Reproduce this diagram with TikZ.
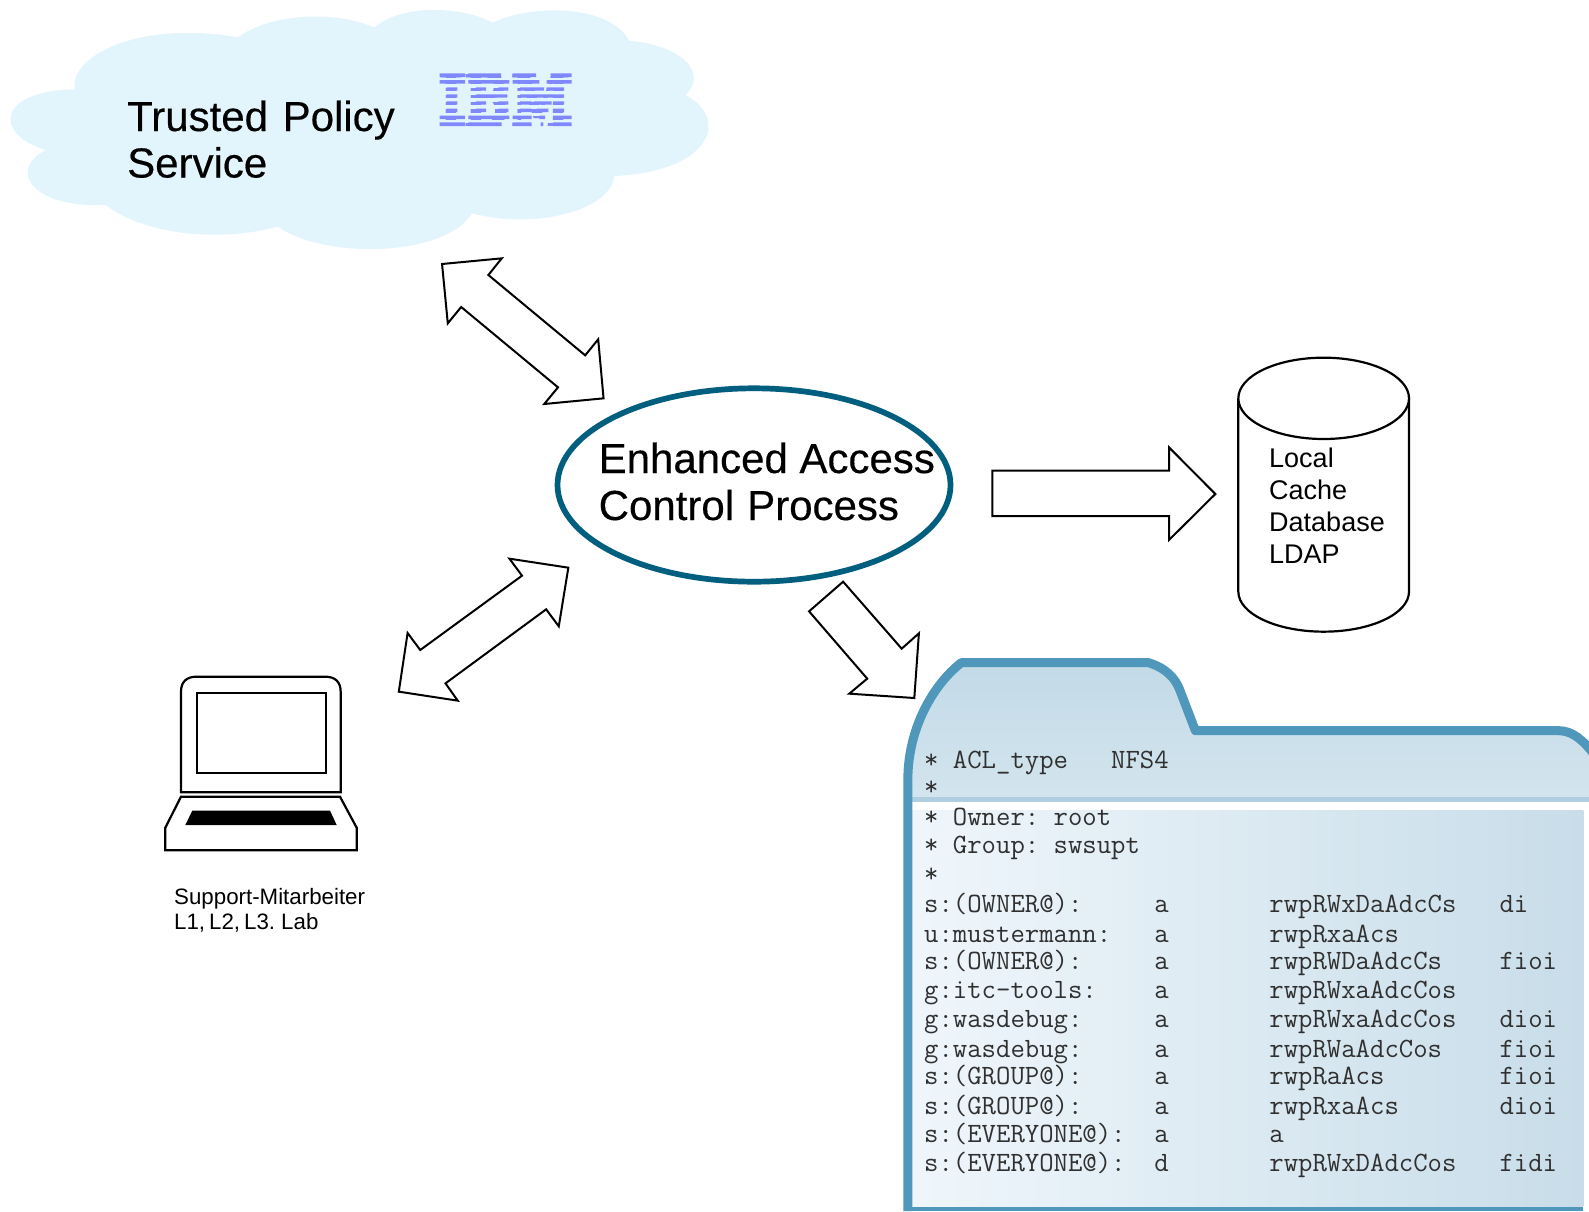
\documentclass[tikz,border=0pt]{standalone}
\usepackage{fontspec}
\setmainfont{Liberation Sans}
\newfontfamily\logofont{DejaVu Serif}
\newfontfamily\heavysans[FakeBold=0.35]{Liberation Sans}
\usetikzlibrary{shapes.geometric}
\definecolor{cloudfill}{HTML}{E3F5FC}
\definecolor{ibmblue}{HTML}{8088FF}
\definecolor{ringblue}{HTML}{005F7F}
\definecolor{folderline}{HTML}{4F97BB}
\definecolor{folderstripe}{HTML}{AFCFE0}
\definecolor{acltext}{HTML}{303030}
\definecolor{headtop}{HTML}{C2DAE7}
\definecolor{headbot}{HTML}{D3E5EE}
\definecolor{panelleft}{HTML}{EFF6FB}
\definecolor{panelmid}{HTML}{DFEAF2}
\definecolor{panelright}{HTML}{C8DDE9}
\tikzset{
  blockarrow/.style={draw=black,fill=white,line width=2pt,line join=miter,miter limit=10},
  outline/.style={draw=black,line width=2.2pt,fill=white},
  bigtext/.style={anchor=base west,inner sep=0pt,font=\heavysans\fontsize{42}{46}\selectfont},
  dbtext/.style={anchor=base west,inner sep=0pt,font=\fontsize{27}{32}\selectfont},
  staff/.style={anchor=base west,inner sep=0pt,font=\fontsize{22.3}{24}\selectfont},
  acl/.style={anchor=base west,inner sep=0pt,text=acltext,font=\ttfamily\fontsize{27.93}{29}\selectfont},
}
\begin{document}
\begin{tikzpicture}[x=1pt,y=-1pt]
\useasboundingbox (0,0) rectangle (1589,1211);
\fill[white] (0,0) rectangle (1589,1211);

% cloud
\begin{scope}[shift={(0,0)},x=0.45914pt,y=-0.33333pt]
\fill[cloudfill] (163,268)
  .. controls (150,170) and (300,60) .. (518,112)
  .. controls (590,40) and (730,30) .. (815,83)
  .. controls (870,15) and (1000,15) .. (1073,68)
  .. controls (1160,10) and (1330,15) .. (1370,122)
  .. controls (1480,135) and (1545,215) .. (1493,285)
  .. controls (1590,355) and (1550,515) .. (1338,528)
  .. controls (1330,630) and (1170,690) .. (1028,640)
  .. controls (970,770) and (710,780) .. (605,680)
  .. controls (470,730) and (310,700) .. (230,615)
  .. controls (70,625) and (15,510) .. (100,450)
  .. controls (-20,400) and (0,270) .. (163,268) -- cycle;
\end{scope}

\node[bigtext] (trusted) at (127,131) {Trusted\hspace{3pt} Policy};
\node[bigtext] (service) at (127,177.5) {Service};

% IBM logo
\begin{scope}
\clip (439,73.3) rectangle (572,77) (439,80) rectangle (572,83.5)
      (439,87.3) rectangle (572,90.7) (439,94.3) rectangle (572,97.7)
      (439,101.3) rectangle (572,104.7) (439,108.7) rectangle (572,112)
      (439,115.7) rectangle (572,119) (439,122.3) rectangle (572,126);
\node[anchor=base west,inner sep=0pt,text=ibmblue,xscale=0.76,transform shape,
      font=\logofont\bfseries\fontsize{72.5}{72}\selectfont] (ibm) at (438,126) {IBM};
\fill[ibmblue]
  (439.5,73) rectangle (465,78) (468.3,73) rectangle (501,78) (512.7,73) rectangle (536,78) (550.7,73) rectangle (571.7,78)
  (439.5,79) rectangle (465,85) (468.3,79) rectangle (509.3,85) (512.7,79) rectangle (539.3,85) (546.7,79) rectangle (571.7,85)
  (446.7,86) rectangle (457.3,92) (476,86) rectangle (486,92) (498.3,86) rectangle (508.3,92) (520,86) rectangle (544,92) (546.7,86) rectangle (564,92)
  (446.7,93) rectangle (457.3,99) (476,93) rectangle (507.3,99) (520,93) rectangle (564,99)
  (446.7,100) rectangle (457.3,106) (476,100) rectangle (486,106) (498.3,100) rectangle (508.3,106) (520,100) rectangle (531.7,106) (533.5,100) rectangle (551.7,106) (553,100) rectangle (564,106)
  (446.7,107) rectangle (457.3,113) (476,107) rectangle (486,113) (498.3,107) rectangle (508.3,113) (520,107) rectangle (531.7,113) (536.7,107) rectangle (548.3,113) (553,107) rectangle (564,113)
  (439.5,114) rectangle (465,120) (468.3,114) rectangle (509.3,120) (512.7,114) rectangle (531.7,120) (539.3,114) rectangle (545,120) (553,114) rectangle (571.7,120)
  (439.5,121) rectangle (465,127) (468.3,121) rectangle (501.7,127) (512.7,121) rectangle (531.7,127) (540.7,121) rectangle (543.3,127) (553,121) rectangle (571.7,127);
\end{scope}

% process ellipse
\node[draw=ringblue,line width=5.7pt,fill=white,ellipse,minimum width=393pt,minimum height=193.4pt,inner sep=0pt] (process) at (754,485) {};
\node[bigtext] (enhanced) at (598.5,473) {Enhanced Access};
\node[bigtext] (control) at (598.5,520) {Control\hspace{1.5pt} Process};

% folder
\begin{scope}[shift={(890,640)},x=0.44583pt,y=-0.33333pt]
\shade[top color=headtop,bottom color=headbot] (40,480) -- (40,420)
  .. controls (40,260) and (100,130) .. (160,68) -- (580,68)
  .. controls (620,85) and (640,115) .. (650,150) -- (685,272) -- (1500,272)
  .. controls (1530,272) and (1555,300) .. (1568,325) -- (1568,480) -- cycle;
\fill[folderstripe] (40,472) rectangle (1568,487);
\shade[left color=panelleft,middle color=panelmid,right color=panelright] (50,510) rectangle (1555,1700);
\fill[folderline] (50,1700) rectangle (1555,1713);
\draw[folderline,line width=9pt,line join=round] (40,1713) -- (40,420)
  .. controls (40,260) and (100,130) .. (160,68) -- (580,68)
  .. controls (620,85) and (640,115) .. (650,150) -- (685,272) -- (1500,272)
  .. controls (1530,272) and (1555,300) .. (1580,345);
\end{scope}

% acl listing
\node[acl] (r1) at (924,768.7) {*~ACL\_type~~~NFS4};
\node[acl] (r2) at (924,795) {*};
\node[acl] (r3) at (924,825.3) {*~Owner:~root};
\node[acl] (r4) at (924,853.6) {*~Group:~swsupt};
\node[acl] (r5) at (924,882) {*};
\node[acl] (r6) at (924,912) {s:(OWNER@):~~~~~a~~~~~~~rwpRWxDaAdcCs~~~di};
\node[acl] (r7) at (924,942) {u:mustermann:~~~a~~~~~~~rwpRxaAcs};
\node[acl] (r8) at (924,969) {s:(OWNER@):~~~~~a~~~~~~~rwpRWDaAdcCs~~~~fioi};
\node[acl] (r9) at (924,998.6) {g:itc-tools:~~~~a~~~~~~~rwpRWxaAdcCos};
\node[acl] (r10) at (924,1027) {g:wasdebug:~~~~~a~~~~~~~rwpRWxaAdcCos~~~dioi};
\node[acl] (r11) at (924,1057) {g:wasdebug:~~~~~a~~~~~~~rwpRWaAdcCos~~~~fioi};
\node[acl] (r12) at (924,1084.6) {s:(GROUP@):~~~~~a~~~~~~~rwpRaAcs~~~~~~~~fioi};
\node[acl] (r13) at (924,1114.6) {s:(GROUP@):~~~~~a~~~~~~~rwpRxaAcs~~~~~~~dioi};
\node[acl] (r14) at (924,1142) {s:(EVERYONE@):~~a~~~~~~~a};
\node[acl] (r15) at (924,1171.3) {s:(EVERYONE@):~~d~~~~~~~rwpRWxDAdcCos~~~fidi};

% block arrows around the process
\begin{scope}[shift={(390,250)},x=0.38270pt,y=-0.33333pt]
\draw[blockarrow] (136,42) -- (292,25) -- (257,75) -- (510,316) -- (544,268) -- (558,445) -- (403,462) -- (439,412) -- (186,171) -- (151,220) -- cycle;
\draw[blockarrow] (466,953) -- (312,926) -- (345,977) -- (79,1200) -- (46,1149) -- (23,1325) -- (177,1352) -- (145,1300) -- (408,1078) -- (441,1129) -- cycle;
\draw[blockarrow] (1184,995) -- (1337,1196) -- (1382,1150) -- (1370,1344) -- (1200,1331) -- (1247,1286) -- (1095,1084) -- cycle;
\end{scope}

% arrow to database and cylinder
\begin{scope}[shift={(980,350)},x=0.33333pt,y=-0.33333pt]
\draw[blockarrow] (37,362) -- (567,362) -- (567,292) -- (706,432) -- (567,570) -- (567,498) -- (37,498) -- cycle;
\draw[outline] (775,145) -- (775,725) arc[start angle=180,end angle=0,x radius=256,y radius=120] -- (1287,145);
\draw[outline] (1031,145) ellipse[x radius=256,y radius=122];
\end{scope}
\node[dbtext] (local) at (1269,467.7) {Local};
\node[dbtext] (cache) at (1269,499.3) {Cache};
\node[dbtext] (database) at (1269,531.7) {Database};
\node[dbtext] (ldap) at (1269,563.7) {LDAP};

% laptop
\begin{scope}[shift={(140,660)},x=0.33333pt,y=-0.33333pt]
\draw[outline] (123,397) -- (123,95) .. controls (123,65) and (140,50) .. (170,50) -- (555,50) .. controls (585,50) and (602,65) .. (602,95) -- (602,397) -- cycle;
\draw[outline] (170,100) rectangle (557,340);
\draw[outline] (123,410) -- (600,410) -- (650,503) -- (650,571) -- (76,571) -- (76,503) -- cycle;
\fill[black] (157,452) -- (570,452) -- (590,495) -- (136,495) -- cycle;
\end{scope}
\node[staff] (staff1) at (174,904.5) {Support-Mitarbeiter};
\node[staff] (staff2) at (174,929) {\spaceskip=4pt L1, L2, L3. Lab};
\end{tikzpicture}
\end{document}
